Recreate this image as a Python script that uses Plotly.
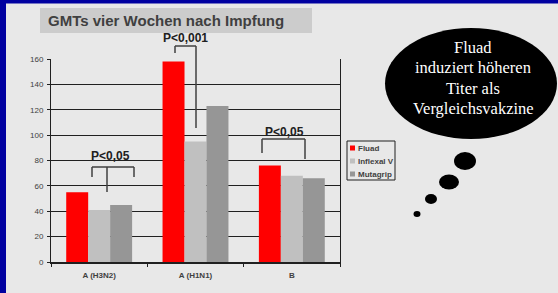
import plotly.graph_objects as go

categories = ["A (H3N2)", "A (H1N1)", "B"]
series_names = ["Fluad", "Inflexal V", "Mutagrip"]
fluad = [55, 158, 76]
inflexal = [41, 95, 68]
mutagrip = [45, 123, 66]
series_values = [fluad, inflexal, mutagrip]
series_colors = ["#FF0000", "#C0C0C0", "#969696"]
y_ticks = [0, 20, 40, 60, 80, 100, 120, 140, 160]

W, H = 558, 293
L, R, T, B = 51, 340, 59, 262  # plot area pixels


def px(x):
    return (x - L) / (R - L)


def py(y):
    return (B - y) / (B - T)


fig = go.Figure()
for name, vals, col in zip(series_names, series_values, series_colors):
    fig.add_trace(go.Bar(x=categories, y=vals, name=name, marker_color=col,
                         marker_line_width=0, showlegend=False, hoverinfo="skip"))

shapes = []
annotations = []

# page border (blue top and left)
shapes.append(dict(type="rect", xref="paper", yref="paper", x0=px(-2), x1=px(6), y0=py(300), y1=py(-2),
                   fillcolor="#0000A0", line_width=0, layer="above"))
shapes.append(dict(type="rect", xref="paper", yref="paper", x0=px(-2), x1=px(560), y0=py(3.5), y1=py(-2),
                   fillcolor="#0000A0", line_width=0, layer="above"))

# title box
shapes.append(dict(type="rect", xref="paper", yref="paper", x0=px(40), x1=px(312), y0=py(33), y1=py(8),
                   fillcolor="#CCCCCC", line_width=0, layer="below"))
annotations.append(dict(text="<b>GMTs vier Wochen nach Impfung</b>", xref="paper", yref="paper",
                        x=px(46), y=py(20.5), xanchor="left", yanchor="middle", showarrow=False,
                        font=dict(family="Arial, Liberation Sans", size=15, color="#404040")))

br = dict(color="#404040", width=1.5)


def seg(x0, y0, x1, y1):
    shapes.append(dict(type="line", xref="paper", yref="paper", x0=px(x0), y0=py(y0),
                       x1=px(x1), y1=py(y1), line=br))


# P<0,001 bracket (H1N1)
seg(175, 46, 175, 53)
seg(175, 46, 196, 46)
seg(196, 46, 196, 128)
# P<0,05 bracket (H3N2)
seg(92, 167, 134, 167)
seg(92, 167, 92, 177)
seg(134, 167, 134, 177)
seg(107, 167, 107, 192)
# P<0,05 bracket (B)
seg(262, 139, 305, 139)
seg(262, 139, 262, 153)
seg(305, 139, 305, 159)

pfont = dict(family="Arial, Liberation Sans", size=12, color="#202020")
for txt, x, y in [("P<0,001", 185, 38), ("P<0,05", 110, 156), ("P<0,05", 284, 132)]:
    annotations.append(dict(text="<b>%s</b>" % txt, xref="paper", yref="paper", x=px(x), y=py(y),
                            xanchor="center", yanchor="middle", showarrow=False, font=pfont))

# custom legend
shapes.append(dict(type="rect", xref="paper", yref="paper", x0=px(347), x1=px(395), y0=py(180), y1=py(141),
                   fillcolor="rgba(0,0,0,0)", line=dict(color="#202020", width=1)))
for i, (name, col) in enumerate(zip(series_names, series_colors)):
    yc = 148 + 13 * i
    shapes.append(dict(type="rect", xref="paper", yref="paper", x0=px(350), x1=px(355),
                       y0=py(yc + 2.5), y1=py(yc - 2.5), fillcolor=col, line_width=0))
    annotations.append(dict(text="<b>%s</b>" % name, xref="paper", yref="paper", x=px(356), y=py(yc),
                            xanchor="left", yanchor="middle", showarrow=False,
                            font=dict(family="Arial, Liberation Sans", size=8, color="#404040")))

# thought bubble
shapes.append(dict(type="circle", xref="paper", yref="paper", x0=px(385), x1=px(557), y0=py(139), y1=py(28),
                   fillcolor="black", line_width=0))
for cx, cy, rx, ry in [(465, 161, 11, 9), (449, 182, 10, 7.5), (431, 199, 6, 5), (417, 214, 3.5, 3)]:
    shapes.append(dict(type="circle", xref="paper", yref="paper", x0=px(cx - rx), x1=px(cx + rx),
                       y0=py(cy + ry), y1=py(cy - ry), fillcolor="black", line_width=0))
bubble_lines = ["Fluad", "induziert höheren", "Titer als", "Vergleichsvakzine"]
for i, line in enumerate(bubble_lines):
    annotations.append(dict(text=line, xref="paper", yref="paper", x=px(473), y=py(48 + 20 * i),
                            xanchor="center", yanchor="middle", showarrow=False,
                            font=dict(family="Liberation Serif, Times New Roman", size=16.5, color="white")))

tickfont = dict(family="Arial, Liberation Sans", size=8, color="#404040")
fig.update_layout(
    width=W, height=H,
    margin=dict(l=L, r=W - R, t=T, b=H - B, pad=0),
    paper_bgcolor="#E8E8E8", plot_bgcolor="#E8E8E8",
    barmode="group", bargap=0.316, bargroupgap=0,
    shapes=shapes, annotations=annotations,
    xaxis=dict(type="category", tickson="boundaries", ticks="outside", ticklen=3, tickcolor="#202020",
               showline=True, linecolor="#202020", linewidth=2, mirror=False, showgrid=False,
               tickfont=tickfont, tickprefix="<b>", ticksuffix="</b>", range=[-0.5, 2.5],
               ticklabelstandoff=4),
    yaxis=dict(range=[0, 160], tickvals=y_ticks, ticks="outside", ticklen=3, tickcolor="#202020",
               showline=True, linecolor="#202020", linewidth=1, mirror=True,
               showgrid=True, gridcolor="#202020", gridwidth=1, zeroline=False,
               tickfont=tickfont, tickprefix="<b>", ticksuffix="</b>", ticklabelstandoff=2),
    font=dict(family="Arial, Liberation Sans"),
    hovermode=False,
)
fig.write_html("out.html", config={"displayModeBar": False},
               post_script="document.body.style.margin='0';document.body.style.overflow='hidden';"
                           "document.documentElement.style.background='#E8E8E8';")
